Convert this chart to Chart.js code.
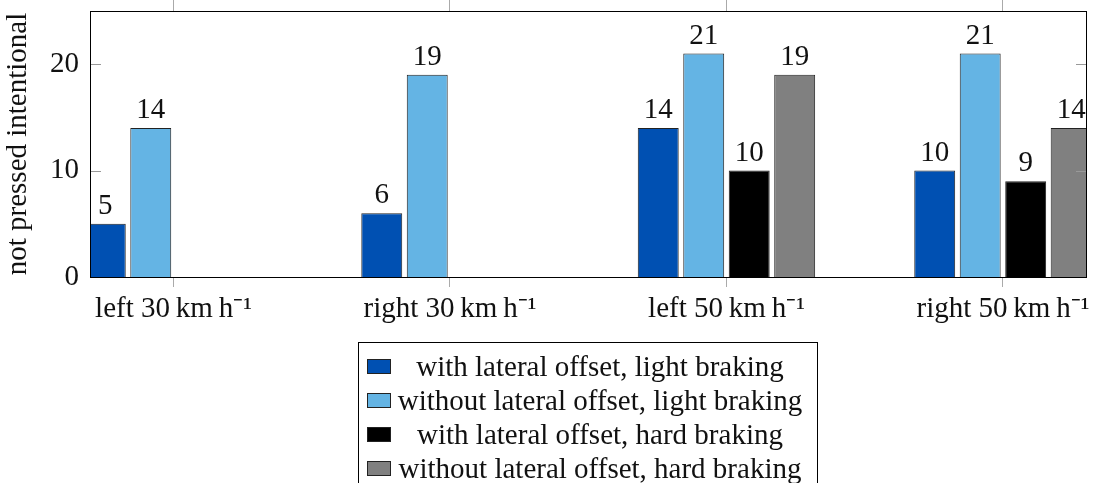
<!DOCTYPE html>
<html>
<head>
<meta charset="utf-8">
<script src="https://cdn.jsdelivr.net/npm/chart.js@4.4.1/dist/chart.umd.min.js"></script>
<style>
  html, body { margin: 0; padding: 0; background: #fff; overflow: hidden; }
  #wrap { position: relative; width: 1094px; height: 483px; }
  #legend {
    position: absolute; left: 358px; top: 342px; width: 460px; height: 200px;
    box-sizing: border-box; border: 1px solid #000; padding-top: 6px;
    font-family: 'Liberation Serif', serif; font-size: 29px; color: #111;
  }
  .row { display: flex; align-items: center; height: 34px; }
  .sw { width: 24px; height: 15px; box-sizing: border-box; border: 1px solid #222; margin-left: 8px; margin-right: 6px; }
  .txt { width: 406px; text-align: center; white-space: nowrap; }
</style>
</head>
<body>
<div id="wrap">
  <canvas id="chart" width="1094" height="483"></canvas>
  <div id="legend"></div>
</div>
<script>
var categories = ['left 30\u2009km\u2009h\u207B\u00B9', 'right 30\u2009km\u2009h\u207B\u00B9', 'left 50\u2009km\u2009h\u207B\u00B9', 'right 50\u2009km\u2009h\u207B\u00B9'];
var seriesNames = ['with lateral offset, light braking', 'without lateral offset, light braking', 'with lateral offset, hard braking', 'without lateral offset, hard braking'];
var withOffsetLight = [5, 6, 14, 10];
var withoutOffsetLight = [14, 19, 21, 21];
var withOffsetHard = [null, null, 10, 9];
var withoutOffsetHard = [null, null, 19, 14];
var seriesColors = ['#0050b2', '#64b4e4', '#000000', '#808080'];
var yTicks = [0, 10, 20];

var FONT = 'Liberation Serif';
Chart.defaults.font.family = FONT;
Chart.defaults.font.size = 29;
Chart.defaults.color = '#111';

function toPoints(arr) {
  return arr.map(function (v, i) { return { x: i, y: v }; });
}

var allSeries = [withOffsetLight, withoutOffsetLight, withOffsetHard, withoutOffsetHard];
var datasets = allSeries.map(function (s, k) {
  return {
    label: seriesNames[k],
    data: toPoints(s),
    backgroundColor: seriesColors[k],
    borderColor: '#222',
    borderWidth: 1,
    categoryPercentage: 0.658,
    barPercentage: 0.9
  };
});

function setCatTicks(scale) {
  scale.ticks = categories.map(function (c, i) { return { value: i }; });
}

// the library pads the area for half tick labels, drop that
function noPad(s) {
  s.paddingTop = 0; s.paddingBottom = 0; s.paddingLeft = 0; s.paddingRight = 0;
}

// frame, inner y ticks and the numbers above the bars
var extras = {
  id: 'extras',
  afterDatasetsDraw: function (chart) {
    var ctx = chart.ctx;
    var a = chart.chartArea;
    var y = chart.scales.y;
    ctx.save();
    ctx.strokeStyle = '#999';
    ctx.lineWidth = 1;
    yTicks.forEach(function (t) {
      var py = Math.round(y.getPixelForValue(t)) + 0.5;
      ctx.beginPath();
      ctx.moveTo(a.left, py); ctx.lineTo(a.left + 11, py);
      ctx.moveTo(a.right, py); ctx.lineTo(a.right - 11, py);
      ctx.stroke();
    });
    ctx.strokeStyle = '#000';
    ctx.strokeRect(a.left + 0.5, a.top + 0.5, a.right - a.left - 1, a.bottom - a.top);

    ctx.fillStyle = '#111';
    ctx.font = '29px "' + FONT + '"';
    ctx.textAlign = 'center';
    ctx.textBaseline = 'alphabetic';
    chart.data.datasets.forEach(function (ds, k) {
      var meta = chart.getDatasetMeta(k);
      meta.data.forEach(function (bar, i) {
        var v = ds.data[i].y;
        if (v === null) return;
        ctx.fillText(String(v), bar.x, bar.y - 10);
      });
    });
    ctx.restore();
  }
};

var ctx = document.getElementById('chart').getContext('2d');
var chart = new Chart(ctx, {
  type: 'bar',
  data: { datasets: datasets },
  plugins: [extras],
  options: {
    responsive: false,
    animation: false,
    devicePixelRatio: 1,
    layout: { padding: { left: 0, right: 7, top: 0, bottom: 0 } },
    plugins: { legend: { display: false }, tooltip: { enabled: false } },
    scales: {
      x: {
        type: 'linear',
        position: 'bottom',
        offset: false,
        min: -0.302,
        max: 3.304,
        afterBuildTicks: setCatTicks,
        afterFit: function (s) { s.height = 206; noPad(s); },
        border: { display: false },
        grid: { offset: false, drawOnChartArea: false, drawTicks: true, tickLength: 10, color: '#aaa' },
        ticks: {
          padding: 5,
          maxRotation: 0,
          autoSkip: false,
          callback: function (v) { return categories[v]; }
        }
      },
      xTop: {
        type: 'linear',
        position: 'top',
        offset: false,
        min: -0.302,
        max: 3.304,
        afterBuildTicks: setCatTicks,
        afterFit: function (s) { s.height = 11; noPad(s); },
        border: { display: false },
        grid: { offset: false, drawOnChartArea: false, drawTicks: true, tickLength: 11, color: '#aaa' },
        ticks: { display: false }
      },
      y: {
        min: 0,
        max: 25,
        afterBuildTicks: function (s) { s.ticks = yTicks.map(function (t) { return { value: t }; }); },
        afterFit: function (s) { s.width = 90; noPad(s); },
        border: { display: false },
        grid: { display: false, drawTicks: false },
        ticks: { padding: 11 },
        title: { display: true, text: 'not pressed intentional', padding: 1 }
      }
    }
  }
});

var legend = document.getElementById('legend');
seriesNames.forEach(function (name, k) {
  var row = document.createElement('div');
  row.className = 'row';
  var sw = document.createElement('div');
  sw.className = 'sw';
  sw.style.background = seriesColors[k];
  var txt = document.createElement('div');
  txt.className = 'txt';
  txt.textContent = name;
  row.appendChild(sw);
  row.appendChild(txt);
  legend.appendChild(row);
});
</script>
</body>
</html>
